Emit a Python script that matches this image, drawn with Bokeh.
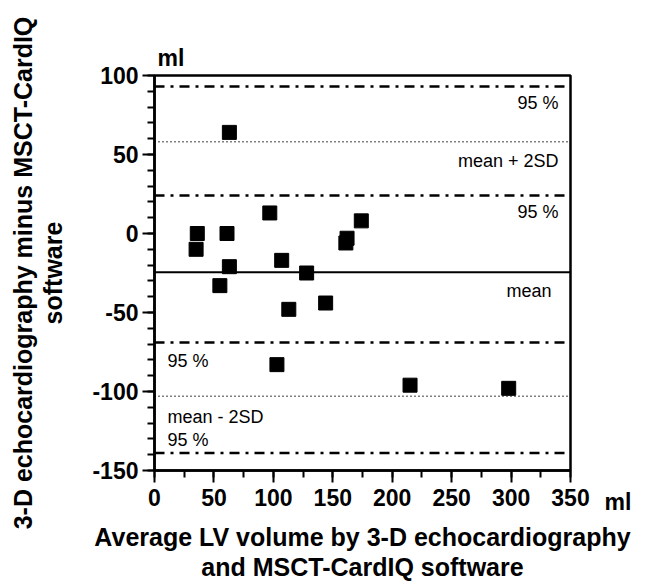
from bokeh.plotting import figure
from bokeh.models import (Range1d, SingleIntervalTicker, FixedTicker, Span, Label,
                          ColumnDataSource, Title, LinearAxis)
from bokeh.embed import file_html
from bokeh.resources import INLINE

# Data: average volume (ml) vs difference (ml)
avg_volume = [63, 97, 36, 35, 61, 174, 162, 161, 107, 63, 55, 128, 113, 144, 103, 215, 298]
difference = [64, 13, 0, -10, 0, 8, -3, -6, -17, -21, -33, -25, -48, -44, -83, -96, -98]

# Reference lines
mean_diff = -24.5
sd2_limits = [58, -103]
ci95_limits = [93, 24, -69, -139]

# Tick labels of the y axis (hyphen-minus as in the original)
y_ticks = [100, 50, 0, -50, -100, -150]
y_tick_labels = ["100", "50", "0", "-50", "-100", "-150"]

# Annotations
ann_text = ["95 %", "mean + 2SD", "95 %", "mean", "95 %", "mean - 2SD", "95 %"]
ann_x = [340, 340, 340, 334, 11, 11, 11]
ann_y = [82.6, 45.7, 13.5, -36.4, -80.6, -115.9, -131]
ann_align = ["right", "right", "right", "right", "left", "left", "left"]

FONT = "Liberation Sans"

p = figure(width=640, height=584, output_backend="svg", toolbar_location=None,
           title=None,
           x_range=Range1d(0, 350), y_range=Range1d(-150, 100),
           min_border_left=154, min_border_right=70, min_border_top=75, min_border_bottom=113)

p.background_fill_color = "white"
p.border_fill_color = "white"
p.outline_line_color = "black"
p.outline_line_width = 2.5
p.xgrid.visible = False
p.ygrid.visible = False

p.xaxis.ticker = SingleIntervalTicker(interval=50, num_minor_ticks=2)
p.yaxis.ticker = SingleIntervalTicker(interval=50, num_minor_ticks=5)
p.yaxis.major_label_overrides = dict(zip(y_ticks, y_tick_labels))

for ax in (p.xaxis[0], p.yaxis[0]):
    ax.axis_line_width = 2.5
    ax.axis_line_color = "black"
    ax.major_tick_out = 12
    ax.major_tick_in = 0
    ax.minor_tick_out = 7
    ax.minor_tick_in = 0
    ax.major_tick_line_width = 2
    ax.minor_tick_line_width = 2
    ax.major_tick_line_color = "black"
    ax.minor_tick_line_color = "black"
    ax.major_label_text_font = FONT
    ax.major_label_text_font_style = "bold"
    ax.major_label_text_font_size = "23px"
    ax.major_label_text_color = "black"
    ax.axis_label_text_font = FONT
    ax.axis_label_text_font_style = "bold"
    ax.axis_label_text_font_size = "25px"
    ax.axis_label_text_color = "black"
    ax.axis_label_text_line_height = 1.1

p.xaxis.major_label_standoff = 6
p.yaxis.major_label_standoff = 4
p.xaxis.axis_label = "Average LV volume by 3-D echocardiography\nand MSCT-CardIQ software"
p.yaxis.axis_label = "3-D echocardiography minus MSCT-CardIQ\nsoftware"
p.xaxis.axis_label_standoff = 14
p.yaxis.axis_label_standoff = 22

# Unit label of the x axis, at the right end of the tick-label row
unit_axis = LinearAxis(ticker=FixedTicker(ticks=[-150]),
                       major_label_overrides={-150: "\n\nml"})
unit_axis.axis_line_color = None
unit_axis.major_tick_line_color = None
unit_axis.minor_tick_line_color = None
unit_axis.major_tick_out = 0
unit_axis.major_tick_in = 0
unit_axis.major_label_standoff = 34
unit_axis.major_label_text_font = FONT
unit_axis.major_label_text_font_style = "bold"
unit_axis.major_label_text_font_size = "23px"
unit_axis.major_label_text_color = "black"
p.add_layout(unit_axis, "right")

# Unit label of the y axis, above the plot
p.add_layout(Title(text="ml", align="left", offset=3, standoff=9, text_font=FONT,
                   text_font_style="bold", text_font_size="23px", text_color="black"), "above")

# Lines
for v in ci95_limits:
    p.add_layout(Span(location=v, dimension="width", line_color="black",
                      line_width=2.5, line_dash="10 6 3 6"))
for v in sd2_limits:
    p.add_layout(Span(location=v, dimension="width", line_color="black",
                      line_width=1.5, line_dash="1 3"))
p.add_layout(Span(location=mean_diff, dimension="width", line_color="black", line_width=2))

src = ColumnDataSource(dict(x=avg_volume, y=difference))
p.scatter("x", "y", source=src, marker="square", size=14, fill_color="black", line_color="black")

for t, x, y, a in zip(ann_text, ann_x, ann_y, ann_align):
    p.add_layout(Label(x=x, y=y, text=t, text_align=a, text_baseline="middle",
                       text_font=FONT, text_font_size="18px", text_color="black"))

open("out.html", "w").write(file_html(p, INLINE))
